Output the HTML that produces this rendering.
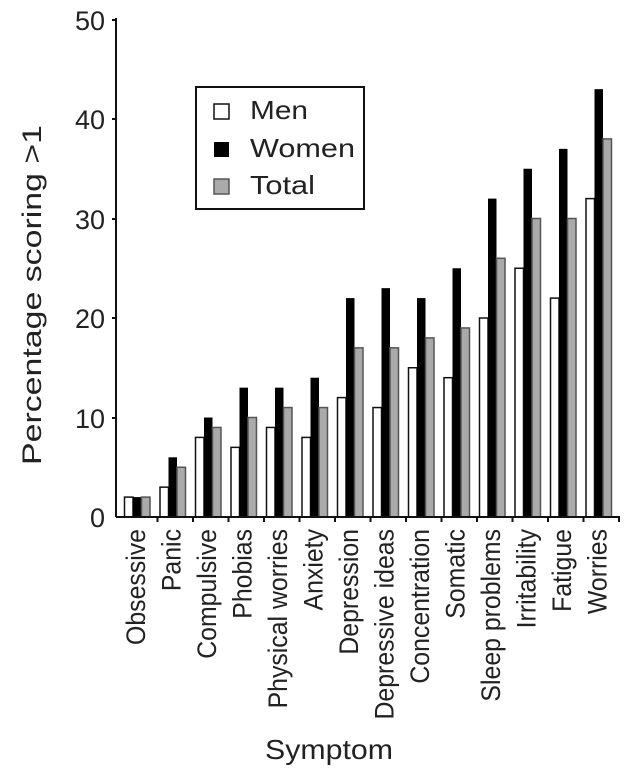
<!DOCTYPE html>
<html><head><style>body{margin:0;background:#fff}svg{display:block}text{font-family:"Liberation Sans",sans-serif;fill:#222}</style></head>
<body>
<svg width="635" height="774" xmlns="http://www.w3.org/2000/svg">
<g id="bars"></g>
<line x1="116" y1="18" x2="116" y2="517" stroke="#111" stroke-width="2"/>
<line x1="116" y1="517" x2="620" y2="517" stroke="#111" stroke-width="2"/>
<g stroke="#111" stroke-width="2">
<line x1="112" y1="20" x2="116" y2="20"/><line x1="112" y1="119" x2="116" y2="119"/><line x1="112" y1="219" x2="116" y2="219"/><line x1="112" y1="318" x2="116" y2="318"/><line x1="112" y1="418" x2="116" y2="418"/>
</g>
<g font-size="27" text-anchor="end">
<text x="105" y="30">50</text><text x="105" y="129">40</text><text x="105" y="229">30</text><text x="105" y="328">20</text><text x="105" y="428">10</text><text x="105" y="527">0</text>
</g>
<text transform="translate(41,465) rotate(-90)" font-size="27" textLength="340" lengthAdjust="spacingAndGlyphs">Percentage scoring &gt;1</text>
<text x="265" y="759" font-size="28" textLength="128" lengthAdjust="spacingAndGlyphs">Symptom</text>
<rect x="196" y="87" width="168" height="122" fill="#fff" stroke="#111" stroke-width="2"/>
<rect x="214" y="104" width="15" height="15" fill="#fff" stroke="#111" stroke-width="1.5"/>
<rect x="214" y="142" width="15" height="15" fill="#000"/>
<rect x="214" y="179" width="15" height="15" fill="#aaa" stroke="#555" stroke-width="1.5"/>
<g font-size="26"><text x="250" y="119" textLength="58" lengthAdjust="spacingAndGlyphs">Men</text><text x="250" y="157" textLength="105" lengthAdjust="spacingAndGlyphs">Women</text><text x="250" y="194" textLength="65" lengthAdjust="spacingAndGlyphs">Total</text></g>
<g id="labels" font-size="27" text-anchor="end"></g>
<script>
var men=[2,3,8,7,9,8,12,11,15,14,20,25,22,32],wom=[2,6,10,13,13,14,22,23,22,25,32,35,37,43],tot=[2,5,9,10,11,11,17,17,18,19,26,30,30,38];
var names=["Obsessive","Panic","Compulsive","Phobias","Physical worries","Anxiety","Depression","Depressive ideas","Concentration","Somatic","Sleep problems","Irritability","Fatigue","Worries"];
var ns="http://www.w3.org/2000/svg",b=document.getElementById("bars"),l=document.getElementById("labels");
function r(x,v,f,s){var e=document.createElementNS(ns,"rect");var h=v*9.95;e.setAttribute("x",x);e.setAttribute("y",517-h);e.setAttribute("width",8.5);e.setAttribute("height",h);e.setAttribute("fill",f);if(s){e.setAttribute("stroke",s);e.setAttribute("stroke-width",1.5);}b.appendChild(e);}
for(var i=0;i<14;i++){var g=122+35.5*i;r(g+2.5,men[i],"#fff","#111");r(g+11,wom[i],"#000");r(g+19.5,tot[i],"#aaa","#555");
var t=document.createElementNS(ns,"line");t.setAttribute("x1",g+35.5);t.setAttribute("x2",g+35.5);t.setAttribute("y1",517);t.setAttribute("y2",522);t.setAttribute("stroke","#111");t.setAttribute("stroke-width",2);b.appendChild(t);
var tx=document.createElementNS(ns,"text");tx.setAttribute("transform","translate("+(g+23)+",529) rotate(-90) scale(0.92,1)");tx.textContent=names[i];l.appendChild(tx);}
</script>
</svg>
</body></html>
